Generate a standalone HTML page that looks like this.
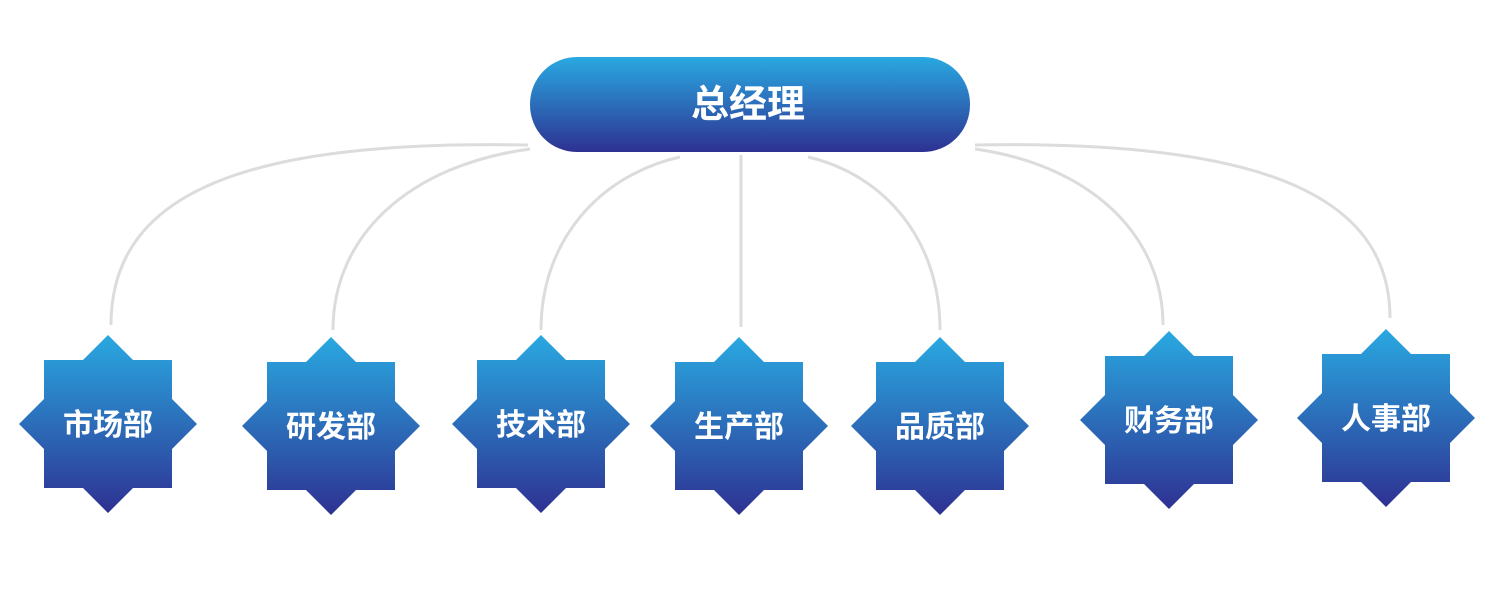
<!DOCTYPE html>
<html><head><meta charset="utf-8"><style>
body{margin:0;background:#fff;width:1500px;height:600px;overflow:hidden}
</style></head><body>
<svg width="1500" height="600" xmlns="http://www.w3.org/2000/svg">
<defs>
<linearGradient id="gb" x1="0" y1="0" x2="0" y2="1"><stop offset="0" stop-color="#29a9e1"/><stop offset="1" stop-color="#2e3192"/></linearGradient>
<g id="star">
<linearGradient id="gs" gradientUnits="userSpaceOnUse" x1="0" y1="-89" x2="0" y2="89"><stop offset="0" stop-color="#29a9e1"/><stop offset="1" stop-color="#2e3192"/></linearGradient>
<polygon fill="url(#gs)" points="0,-89 25,-64 64,-64 64,-25 89,0 64,25 64,64 25,64 0,89 -25,64 -64,64 -64,25 -89,0 -64,-25 -64,-64 -25,-64"/>
</g>
</defs>
<g fill="none" stroke="#dcdcdc" stroke-width="3">
<path d="M528 145 C250 140 111 190 111 325"/>
<path d="M530 149 C410 165 333 235 333 330"/>
<path d="M680 157 C600 175 541 240 541 330"/>
<path d="M741 155 L741 327"/>
<path d="M808 157 C885 175 940 240 940 330"/>
<path d="M975 149 C1090 165 1163 235 1163 325"/>
<path d="M975 145 C1250 140 1390 190 1390 318"/>
</g>
<rect x="530" y="57" width="440" height="95" rx="47" fill="url(#gb)"/>
<text x="748" y="117" text-anchor="middle" font-family="Liberation Sans, Noto Sans CJK SC, sans-serif" font-weight="bold" font-size="38" fill="#fff">总经理</text>
<g font-family="Liberation Sans, Noto Sans CJK SC, sans-serif" font-weight="bold" font-size="30" fill="#fff" text-anchor="middle">
<g transform="translate(108,424)"><use href="#star"/><text y="11">市场部</text></g>
<g transform="translate(331,426)"><use href="#star"/><text y="11">研发部</text></g>
<g transform="translate(541,424)"><use href="#star"/><text y="11">技术部</text></g>
<g transform="translate(739,426)"><use href="#star"/><text y="11">生产部</text></g>
<g transform="translate(940,426)"><use href="#star"/><text y="11">品质部</text></g>
<g transform="translate(1169,420)"><use href="#star"/><text y="11">财务部</text></g>
<g transform="translate(1386,418)"><use href="#star"/><text y="11">人事部</text></g>
</g>
</svg>
</body></html>
